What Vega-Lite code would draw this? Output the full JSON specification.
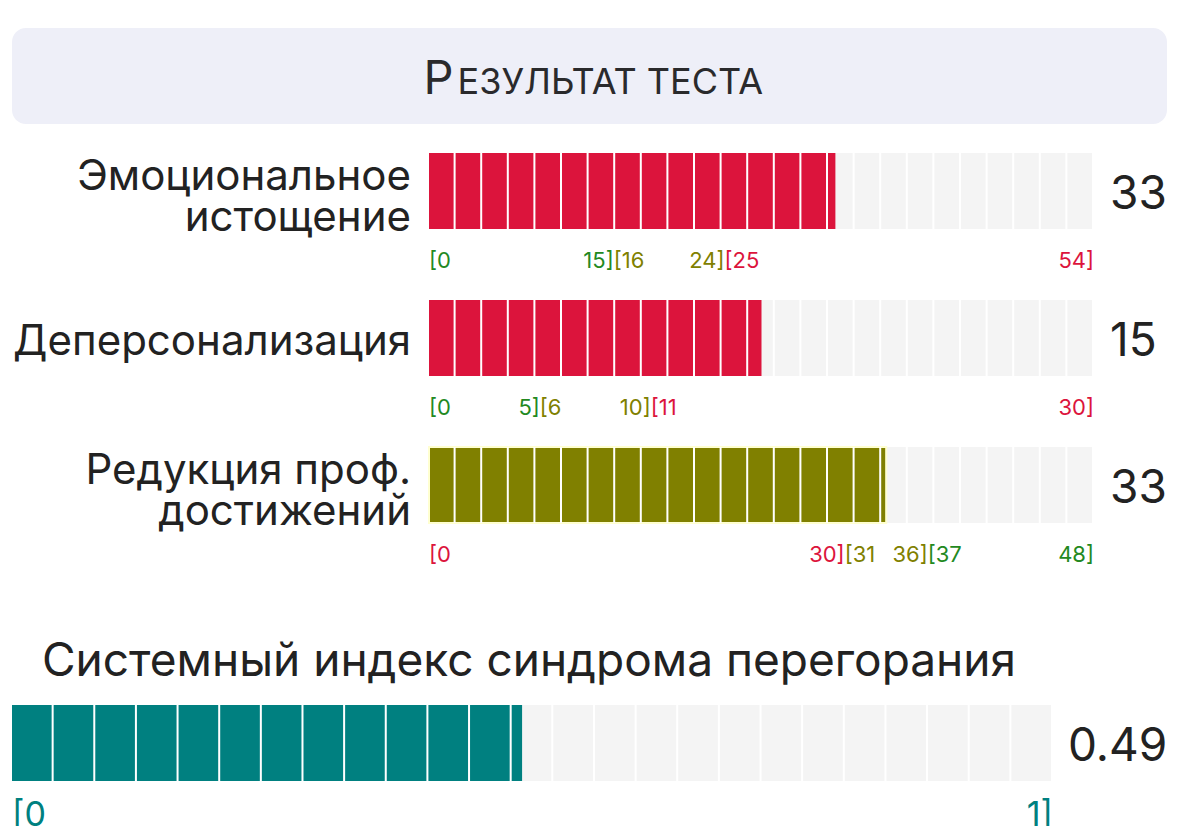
{
  "$schema": "https://vega.github.io/schema/vega-lite/v6.json",
  "padding": {"left": 12, "right": 12, "top": 28, "bottom": 0},
  "background": "white",
  "config": {
    "view": {"stroke": null},
    "font": "Inter",
    "text": {"color": "#222222"}
  },
  "datasets": {
    "heading": [{"initial": "Р", "rest": "ЕЗУЛЬТАТ ТЕСТА"}],
    "scales": [
      {"row": "ee", "label": ["Эмоциональное", "истощение"], "score": 33, "min": 0, "max": 54, "level": "high"},
      {"row": "dp", "label": ["Деперсонализация"], "score": 15, "min": 0, "max": 30, "level": "high"},
      {"row": "rpa", "label": ["Редукция проф.", "достижений"], "score": 33, "min": 0, "max": 48, "level": "medium"}
    ],
    "ranges": [
      {"row": "ee", "from": 0, "to": 15, "open": "[0", "close": "15]", "level": "low"},
      {"row": "ee", "from": 15, "to": 24, "open": "[16", "close": "24]", "level": "medium"},
      {"row": "ee", "from": 24, "to": 54, "open": "[25", "close": "54]", "level": "high"},
      {"row": "dp", "from": 0, "to": 5, "open": "[0", "close": "5]", "level": "low"},
      {"row": "dp", "from": 5, "to": 10, "open": "[6", "close": "10]", "level": "medium"},
      {"row": "dp", "from": 10, "to": 30, "open": "[11", "close": "30]", "level": "high"},
      {"row": "rpa", "from": 0, "to": 30, "open": "[0", "close": "30]", "level": "high"},
      {"row": "rpa", "from": 30, "to": 36, "open": "[31", "close": "36]", "level": "medium"},
      {"row": "rpa", "from": 36, "to": 48, "open": "[37", "close": "48]", "level": "low"}
    ],
    "index": [{"row": "index", "title": "Системный индекс синдрома перегорания", "value": 0.49, "min": 0, "max": 1}],
    "indexRange": [{"row": "index", "from": 0, "to": 1, "open": "[0", "close": "1]"}]
  },
  "bounds": "flush",
  "spacing": 0,
  "vconcat": [
    {
      "width": 1155,
      "height": 96,
      "view": {"fill": "#EEEFF8", "cornerRadius": 14, "stroke": null},
      "data": {"name": "heading"},
      "layer": [
        {
          "mark": {"type": "text", "fontSize": 47, "align": "right", "baseline": "alphabetic", "dx": -136, "dy": 18, "color": "#2a2a2c"},
          "encoding": {"text": {"field": "initial", "type": "nominal"}}
        },
        {
          "mark": {"type": "text", "fontSize": 36, "align": "left", "baseline": "alphabetic", "dx": -132, "dy": 18, "color": "#2a2a2c"},
          "encoding": {"text": {"field": "rest", "type": "nominal"}}
        }
      ]
    },
    {
      "width": 1155,
      "height": 147,
      "layer": [
        {
          "data": {"name": "scales"},
          "transform": [{"filter": "datum.row == 'ee'"}],
          "layer": [
            {
              "mark": {"type": "bar", "color": "#F4F4F4"},
              "encoding": {
                "x": {"field": "max", "type": "quantitative", "axis": null, "scale": {"domain": [0, 54], "range": [417, 1082], "nice": false}},
                "y": {"field": "row", "type": "nominal", "axis": null, "scale": {"range": [29, 105], "paddingInner": 0, "paddingOuter": 0}}
              }
            },
            {
              "mark": {"type": "bar"},
              "encoding": {
                "x": {"field": "score", "type": "quantitative"},
                "y": {"field": "row", "type": "nominal"},
                "color": {"field": "level", "type": "nominal", "legend": null, "scale": {"domain": ["low", "medium", "high"], "range": ["#23891F", "#808000", "#DC143C"]}}
              }
            },
            {
              "mark": {"type": "rule", "color": "white", "strokeWidth": 76, "strokeDash": [2, 24.6], "strokeDashOffset": 2, "strokeCap": "butt", "clip": true},
              "encoding": {"x": {"field": "min", "type": "quantitative"}, "x2": {"field": "max"}, "y": {"field": "row", "type": "nominal"}}
            },
            {
              "mark": {"type": "text", "align": "right", "baseline": "middle", "dx": -18, "dy": -14, "fontSize": 42, "lineHeight": 41},
              "encoding": {"x": {"field": "min", "type": "quantitative"}, "y": {"field": "row", "type": "nominal"}, "text": {"field": "label", "type": "nominal"}}
            },
            {
              "mark": {"type": "text", "align": "left", "baseline": "middle", "dx": 16, "dy": 4, "fontSize": 46},
              "encoding": {"x": {"field": "max", "type": "quantitative"}, "y": {"field": "row", "type": "nominal"}, "text": {"field": "score", "type": "quantitative"}}
            }
          ]
        },
        {
          "data": {"name": "ranges"},
          "transform": [{"filter": "datum.row == 'ee'"}],
          "layer": [
            {
              "mark": {"type": "text", "align": "left", "baseline": "middle", "dy": 70, "fontSize": 22},
              "encoding": {"x": {"field": "from", "type": "quantitative"}, "y": {"field": "row", "type": "nominal"}, "text": {"field": "open", "type": "nominal"}, "color": {"field": "level", "type": "nominal"}}
            },
            {
              "mark": {"type": "text", "align": "right", "baseline": "middle", "dy": 70, "fontSize": 22},
              "encoding": {"x": {"field": "to", "type": "quantitative"}, "y": {"field": "row", "type": "nominal"}, "text": {"field": "close", "type": "nominal"}, "color": {"field": "level", "type": "nominal"}}
            }
          ]
        }
      ]
    },
    {
      "width": 1155,
      "height": 147,
      "layer": [
        {
          "data": {"name": "scales"},
          "transform": [{"filter": "datum.row == 'dp'"}],
          "layer": [
            {
              "mark": {"type": "bar", "color": "#F4F4F4"},
              "encoding": {
                "x": {"field": "max", "type": "quantitative", "axis": null, "scale": {"domain": [0, 30], "range": [417, 1082], "nice": false}},
                "y": {"field": "row", "type": "nominal", "axis": null, "scale": {"range": [29, 105], "paddingInner": 0, "paddingOuter": 0}}
              }
            },
            {
              "mark": {"type": "bar"},
              "encoding": {
                "x": {"field": "score", "type": "quantitative"},
                "y": {"field": "row", "type": "nominal"},
                "color": {"field": "level", "type": "nominal", "legend": null, "scale": {"domain": ["low", "medium", "high"], "range": ["#23891F", "#808000", "#DC143C"]}}
              }
            },
            {
              "mark": {"type": "rule", "color": "white", "strokeWidth": 76, "strokeDash": [2, 24.6], "strokeDashOffset": 2, "strokeCap": "butt", "clip": true},
              "encoding": {"x": {"field": "min", "type": "quantitative"}, "x2": {"field": "max"}, "y": {"field": "row", "type": "nominal"}}
            },
            {
              "mark": {"type": "text", "align": "right", "baseline": "middle", "dx": -18, "dy": 4, "fontSize": 42, "lineHeight": 41},
              "encoding": {"x": {"field": "min", "type": "quantitative"}, "y": {"field": "row", "type": "nominal"}, "text": {"field": "label", "type": "nominal"}}
            },
            {
              "mark": {"type": "text", "align": "left", "baseline": "middle", "dx": 16, "dy": 4, "fontSize": 46},
              "encoding": {"x": {"field": "max", "type": "quantitative"}, "y": {"field": "row", "type": "nominal"}, "text": {"field": "score", "type": "quantitative"}}
            }
          ]
        },
        {
          "data": {"name": "ranges"},
          "transform": [{"filter": "datum.row == 'dp'"}],
          "layer": [
            {
              "mark": {"type": "text", "align": "left", "baseline": "middle", "dy": 70, "fontSize": 22},
              "encoding": {"x": {"field": "from", "type": "quantitative"}, "y": {"field": "row", "type": "nominal"}, "text": {"field": "open", "type": "nominal"}, "color": {"field": "level", "type": "nominal"}}
            },
            {
              "mark": {"type": "text", "align": "right", "baseline": "middle", "dy": 70, "fontSize": 22},
              "encoding": {"x": {"field": "to", "type": "quantitative"}, "y": {"field": "row", "type": "nominal"}, "text": {"field": "close", "type": "nominal"}, "color": {"field": "level", "type": "nominal"}}
            }
          ]
        }
      ]
    },
    {
      "width": 1155,
      "height": 147,
      "layer": [
        {
          "data": {"name": "scales"},
          "transform": [{"filter": "datum.row == 'rpa'"}],
          "layer": [
            {
              "mark": {"type": "bar", "color": "#F4F4F4"},
              "encoding": {
                "x": {"field": "max", "type": "quantitative", "axis": null, "scale": {"domain": [0, 48], "range": [417, 1082], "nice": false}},
                "y": {"field": "row", "type": "nominal", "axis": null, "scale": {"range": [29, 105], "paddingInner": 0, "paddingOuter": 0}}
              }
            },
            {
              "mark": {"type": "bar", "stroke": "#FFFFD0", "strokeWidth": 2},
              "encoding": {
                "x": {"field": "score", "type": "quantitative"},
                "y": {"field": "row", "type": "nominal"},
                "color": {"field": "level", "type": "nominal", "legend": null, "scale": {"domain": ["low", "medium", "high"], "range": ["#23891F", "#808000", "#DC143C"]}}
              }
            },
            {
              "mark": {"type": "rule", "color": "white", "strokeWidth": 76, "strokeDash": [2, 24.6], "strokeDashOffset": 2, "strokeCap": "butt", "clip": true},
              "encoding": {"x": {"field": "min", "type": "quantitative"}, "x2": {"field": "max"}, "y": {"field": "row", "type": "nominal"}}
            },
            {
              "mark": {"type": "text", "align": "right", "baseline": "middle", "dx": -18, "dy": -14, "fontSize": 42, "lineHeight": 41},
              "encoding": {"x": {"field": "min", "type": "quantitative"}, "y": {"field": "row", "type": "nominal"}, "text": {"field": "label", "type": "nominal"}}
            },
            {
              "mark": {"type": "text", "align": "left", "baseline": "middle", "dx": 16, "dy": 4, "fontSize": 46},
              "encoding": {"x": {"field": "max", "type": "quantitative"}, "y": {"field": "row", "type": "nominal"}, "text": {"field": "score", "type": "quantitative"}}
            }
          ]
        },
        {
          "data": {"name": "ranges"},
          "transform": [{"filter": "datum.row == 'rpa'"}],
          "layer": [
            {
              "mark": {"type": "text", "align": "left", "baseline": "middle", "dy": 70, "fontSize": 22},
              "encoding": {"x": {"field": "from", "type": "quantitative"}, "y": {"field": "row", "type": "nominal"}, "text": {"field": "open", "type": "nominal"}, "color": {"field": "level", "type": "nominal"}}
            },
            {
              "mark": {"type": "text", "align": "right", "baseline": "middle", "dy": 70, "fontSize": 22},
              "encoding": {"x": {"field": "to", "type": "quantitative"}, "y": {"field": "row", "type": "nominal"}, "text": {"field": "close", "type": "nominal"}, "color": {"field": "level", "type": "nominal"}}
            }
          ]
        }
      ]
    },
    {
      "width": 1155,
      "height": 261,
      "layer": [
        {
          "data": {"name": "index"},
          "layer": [
            {
              "mark": {"type": "bar", "color": "#F4F4F4"},
              "encoding": {
                "x": {"field": "max", "type": "quantitative", "axis": null, "scale": {"domain": [0, 1], "range": [0, 1041], "nice": false}},
                "y": {"field": "row", "type": "nominal", "axis": null, "scale": {"range": [140, 216], "paddingInner": 0, "paddingOuter": 0}}
              }
            },
            {
              "mark": {"type": "bar", "color": "#008080"},
              "encoding": {"x": {"field": "value", "type": "quantitative"}, "y": {"field": "row", "type": "nominal"}}
            },
            {
              "mark": {"type": "rule", "color": "white", "strokeWidth": 76, "strokeDash": [2, 39.64], "strokeDashOffset": 2, "strokeCap": "butt", "clip": true},
              "encoding": {"x": {"field": "min", "type": "quantitative"}, "x2": {"field": "max"}, "y": {"field": "row", "type": "nominal"}}
            },
            {
              "mark": {"type": "text", "align": "left", "baseline": "middle", "dx": 30, "dy": -81, "fontSize": 46},
              "encoding": {"x": {"field": "min", "type": "quantitative"}, "y": {"field": "row", "type": "nominal"}, "text": {"field": "title", "type": "nominal"}}
            },
            {
              "mark": {"type": "text", "align": "left", "baseline": "middle", "dx": 15, "dy": 4, "fontSize": 46},
              "encoding": {"x": {"field": "max", "type": "quantitative"}, "y": {"field": "row", "type": "nominal"}, "text": {"field": "value", "type": "quantitative"}}
            }
          ]
        },
        {
          "data": {"name": "indexRange"},
          "layer": [
            {
              "mark": {"type": "text", "align": "left", "baseline": "middle", "dy": 73, "fontSize": 34, "color": "#008080"},
              "encoding": {"x": {"field": "from", "type": "quantitative"}, "y": {"field": "row", "type": "nominal"}, "text": {"field": "open", "type": "nominal"}}
            },
            {
              "mark": {"type": "text", "align": "right", "baseline": "middle", "dy": 73, "fontSize": 34, "color": "#008080"},
              "encoding": {"x": {"field": "to", "type": "quantitative"}, "y": {"field": "row", "type": "nominal"}, "text": {"field": "close", "type": "nominal"}}
            }
          ]
        }
      ]
    }
  ]
}
